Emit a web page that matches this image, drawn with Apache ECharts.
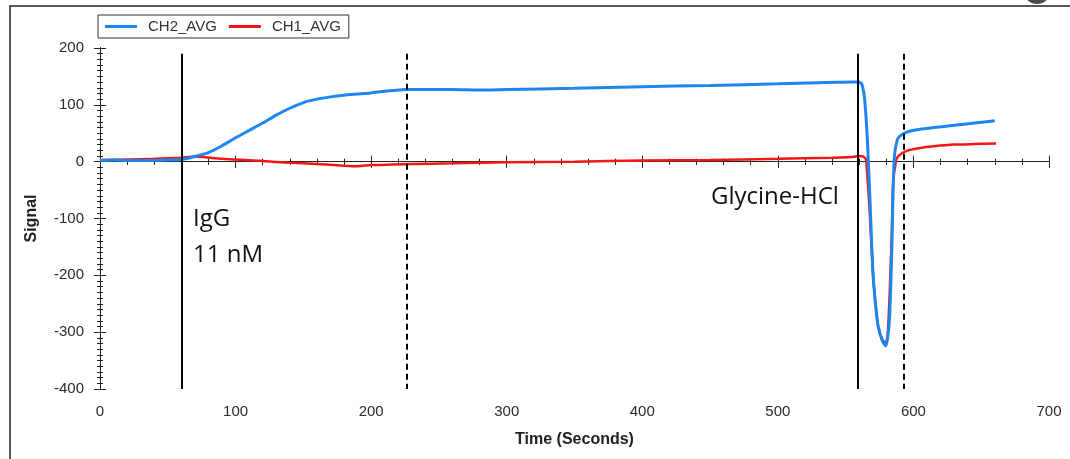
<!DOCTYPE html>
<html lang="en">
<head>
  <meta charset="UTF-8">
  <title>Signal vs Time</title>
  <style>
    body { margin: 0; background: #fff; }
    #main { width: 1070px; height: 459px; }
  </style>
</head>
<body>
<div id="main"></div>
<script src="https://cdn.jsdelivr.net/npm/echarts@6/dist/echarts.min.js"></script>
<script>
  // CH2_AVG (blue) — [time s, signal]
  const ch2Data = [
    [0, 2], [10, 3], [20, 2], [30, 2], [40, 2], [50, 3], [60, 4], [65, 6], [70, 9],
    [80, 16], [90, 28], [100, 42], [110, 55], [120, 68], [130, 82], [140, 94], [150, 104],
    [160, 110], [170, 114], [180, 117], [190, 119], [200, 121], [210, 124], [220, 126],
    [226, 127], [240, 127], [260, 127], [280, 126], [300, 127], [350, 129], [400, 132],
    [450, 134], [500, 137], [530, 139], [555, 140], [560, 140], [562, 136], [564, 110],
    [566, 40], [568, -70], [570, -190], [572, -250], [574, -290], [577, -315], [579.5, -324],
    [581, -310], [582.5, -270], [584, -160], [585, -50], [586, 10], [588, 38], [590, 45],
    [595, 52], [605, 57], [615, 60], [630, 64], [645, 68], [660, 72]
  ];
  // CH1_AVG (red)
  const ch1Data = [
    [0, 3], [20, 4], [40, 5], [60, 7], [70, 9], [76, 8], [90, 5], [100, 4], [120, 1],
    [140, -2], [160, -4], [180, -7], [190, -8], [200, -6], [215, -5], [230, -4], [260, -3],
    [300, -1], [350, 0], [400, 2], [450, 3], [500, 5], [540, 7], [555, 8], [560, 10],
    [563, 9], [565, 4], [567, -60], [568, -100], [570, -190], [572, -250], [574, -290],
    [577, -313], [579.5, -320], [581, -305], [582.5, -230], [584, -130], [585, -40],
    [587, 0], [589, 10], [595, 19], [605, 24], [615, 27], [630, 30], [645, 31], [661, 32]
  ];
  // injection markers: time, line type
  const markerTimes = [60, 226, 559, 593];
  const markerDashed = [false, true, false, true];
  const markerTop = 190;

  const xMin = 0, xMax = 700, xStep = 100;
  const yMin = -400, yMax = 200, yStep = 100;

  const labelFont = { fontFamily: 'Liberation Sans, Arial', fontSize: 15, color: '#2a2a2a' };
  const axisLine = { show: true, lineStyle: { color: '#222', width: 1 } };

  let chart = echarts.init(document.getElementById('main'));

  let markLines = markerTimes.map((t, i) => ([
    { coord: [t, markerTop], lineStyle: { color: '#000', width: 2, type: markerDashed[i] ? [6, 4] : 'solid' } },
    { coord: [t, yMin] }
  ]));

  // axis helpers
  function xAx(grid, pos, showLabel, inside) {
    return {
      type: 'value', gridIndex: grid, position: pos, min: xMin, max: xMax, interval: xStep,
      splitLine: { show: false }, axisLine: axisLine,
      axisTick: { show: true, inside: inside, length: 6, lineStyle: { color: '#222' } },
      minorTick: { show: true, splitNumber: 5, length: 3, lineStyle: { color: '#222' } },
      axisLabel: Object.assign({ show: showLabel, margin: 15 }, labelFont),
      name: showLabel ? 'Time (Seconds)' : '', nameLocation: 'middle', nameGap: 43,
      nameTextStyle: { fontFamily: 'Liberation Sans, Arial', fontSize: 16, fontWeight: 'bold', color: '#222' }
    };
  }
  function yAx(grid, pos, showLabel, inside) {
    return {
      type: 'value', gridIndex: grid, position: pos, min: yMin, max: yMax, interval: yStep,
      splitLine: { show: false }, axisLine: axisLine,
      axisTick: { show: true, inside: inside, length: 6, lineStyle: { color: '#222' } },
      minorTick: { show: true, splitNumber: 10, length: 3, lineStyle: { color: '#222' } },
      axisLabel: Object.assign({ show: showLabel, margin: 16 }, labelFont),
      name: showLabel ? 'Signal' : '', nameLocation: 'middle', nameGap: 60,
      nameTextStyle: { fontFamily: 'Liberation Sans, Arial', fontSize: 16, fontWeight: 'bold', color: '#222' }
    };
  }

  const gridBox = { left: 100, right: 21, top: 48, bottom: 70 };

  let option = {
    animation: false,
    backgroundColor: '#fff',
    grid: [Object.assign({}, gridBox), Object.assign({}, gridBox)],
    legend: {
      left: 98, top: 15,
      data: ['CH2_AVG', 'CH1_AVG'],
      icon: 'rect', itemWidth: 32, itemHeight: 3, itemGap: 12,
      padding: [4, 8, 4, 7],
      borderColor: '#333', borderWidth: 1,
      textStyle: { fontFamily: 'Liberation Sans, Arial', fontSize: 15, color: '#333', padding: [0, 0, 0, 6] }
    },
    xAxis: [
      xAx(0, 'bottom', true, false),
      xAx(0, 'top', false, true),
      xAx(1, 'bottom', false, true)
    ],
    yAxis: [
      yAx(0, 'left', true, false),
      yAx(0, 'right', false, true),
      yAx(1, 'left', false, true)
    ],
    graphic: [
      { type: 'rect', shape: { x: 10, y: 6, width: 1100, height: 500 }, style: { fill: 'none', stroke: '#222', lineWidth: 1.5 }, silent: true },
      { type: 'circle', shape: { cx: 1037, cy: -10, r: 14 }, style: { fill: '#474c52' }, silent: true },
      { type: 'text', left: 193, top: 201, style: { text: 'IgG\n11 nM', font: '24px "Open Sans", sans-serif', fill: '#111', lineHeight: 36 } },
      { type: 'text', left: 711, top: 185, style: { text: 'Glycine-HCl', font: '24px "Open Sans", sans-serif', fill: '#111' } }
    ],
    series: [
      {
        name: 'CH1_AVG', type: 'line', xAxisIndex: 0, yAxisIndex: 0,
        data: ch1Data, showSymbol: false, smooth: 0.2,
        lineStyle: { color: '#f41616', width: 2.5 }, itemStyle: { color: '#f41616' }, z: 3
      },
      {
        name: 'CH2_AVG', type: 'line', xAxisIndex: 0, yAxisIndex: 0,
        data: ch2Data, showSymbol: false, smooth: 0.2,
        lineStyle: { color: '#1c87f0', width: 3 }, itemStyle: { color: '#1c87f0' }, z: 4,
        markLine: { silent: true, symbol: 'none', label: { show: false }, data: markLines }
      }
    ]
  };

  chart.setOption(option);
</script>
</body>
</html>
